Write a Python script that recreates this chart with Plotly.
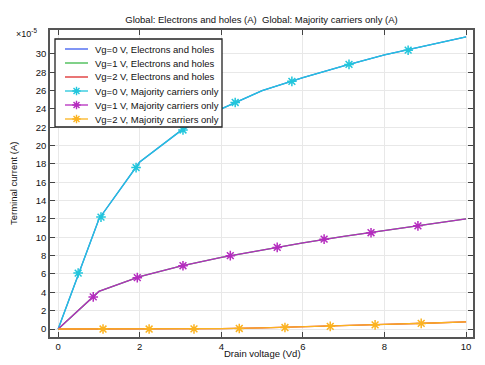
import plotly.graph_objects as go

# ---------------- data (current in units of 1e-5 A) ----------------
vd = [0, 1, 2, 3, 4, 5, 6, 7, 8, 9, 10]
i_vg0 = [0, 12.0, 18.2, 21.6, 24.0, 26.0, 27.4, 28.7, 29.9, 30.9, 31.85]
i_vg1 = [0, 4.1, 5.7, 6.85, 7.8, 8.6, 9.4, 10.1, 10.75, 11.4, 12.0]
i_vg2 = [0, 0.0, 0.0, 0.01, 0.05, 0.12, 0.22, 0.35, 0.5, 0.63, 0.78]

# marker positions (majority carriers only)
mk_x_vg0 = [0.49, 1.05, 1.91, 3.06, 4.34, 5.73, 7.13, 8.58]
mk_y_vg0 = [6.1, 12.2, 17.6, 21.7, 24.7, 27.0, 28.85, 30.4]
mk_x_vg1 = [0.86, 1.94, 3.06, 4.22, 5.37, 6.52, 7.67, 8.82]
mk_y_vg1 = [3.5, 5.6, 6.9, 8.0, 8.9, 9.8, 10.5, 11.25]
mk_x_vg2 = [1.1, 2.23, 3.33, 4.44, 5.56, 6.67, 7.77, 8.9]
mk_y_vg2 = [0.0, 0.0, 0.01, 0.06, 0.16, 0.29, 0.45, 0.61]

names = ["Vg=0 V, Electrons and holes", "Vg=1 V, Electrons and holes",
         "Vg=2 V, Electrons and holes", "Vg=0 V, Majority carriers only",
         "Vg=1 V, Majority carriers only", "Vg=2 V, Majority carriers only"]
colors = ["#3b5bf0", "#3cb84a", "#dd2a2a", "#22c6dc", "#b52cbf", "#fbb320"]

x_ticks = [0, 2, 4, 6, 8, 10]
y_ticks = list(range(0, 32, 2))

title_text = "Global: Electrons and holes (A)  Global: Majority carriers only (A)"
x_title = "Drain voltage (Vd)"
y_title = "Terminal current (A)"

FONT = "Liberation Sans, Arial, sans-serif"
FS = 9.5

# plot-area geometry (pixels)
L, R, T, B = 50, 473, 30, 337
W, H = 485, 365
PW, PH = R - L, B - T


def fx(px):
    return (px - L) / PW


def fy(py):
    return (B - py) / PH


fig = go.Figure()

# electrons and holes (underneath)
for ys, c in zip([i_vg0, i_vg1, i_vg2], colors[:3]):
    fig.add_trace(go.Scatter(x=vd, y=ys, mode="lines", line=dict(color=c, width=1.3),
                             showlegend=False, hoverinfo="skip"))
# majority carriers only
for ys, mx, my, c in zip([i_vg0, i_vg1, i_vg2], [mk_x_vg0, mk_x_vg1, mk_x_vg2],
                         [mk_y_vg0, mk_y_vg1, mk_y_vg2], colors[3:]):
    fig.add_trace(go.Scatter(x=vd, y=ys, mode="lines", line=dict(color=c, width=1.3),
                             showlegend=False))
    fig.add_trace(go.Scatter(x=mx, y=my, mode="markers",
                             marker=dict(symbol="asterisk-open", size=8, color=c,
                                         line=dict(color=c, width=1.5)),
                             showlegend=False))

# ---------------- custom legend (overlay axes in plot-area fractions) ----------------
LX0, LX1, LY0, LY1 = fx(55), fx(222), fy(127), fy(39)
fig.add_trace(go.Scatter(x=[LX0, LX1, LX1, LX0, LX0], y=[LY0, LY0, LY1, LY1, LY0],
                         mode="lines", fill="toself", fillcolor="white",
                         line=dict(color="#222", width=1.3),
                         xaxis="x2", yaxis="y2", showlegend=False, hoverinfo="skip"))
entry_py = [49, 63, 77, 91, 105, 119]
for k, (nm, c) in enumerate(zip(names, colors)):
    ey = fy(entry_py[k])
    fig.add_trace(go.Scatter(x=[fx(65), fx(88)], y=[ey, ey], mode="lines",
                             line=dict(color=c, width=1.3), xaxis="x2", yaxis="y2",
                             showlegend=False, hoverinfo="skip"))
    if k >= 3:
        fig.add_trace(go.Scatter(x=[fx(76.5)], y=[ey], mode="markers",
                                 marker=dict(symbol="asterisk-open", size=7, color=c,
                                             line=dict(color=c, width=1.4)),
                                 xaxis="x2", yaxis="y2", showlegend=False, hoverinfo="skip"))
    fig.add_annotation(x=fx(93), y=ey, xref="paper", yref="paper", text=nm,
                       showarrow=False, xanchor="left", yanchor="middle",
                       font=dict(family=FONT, size=FS, color="#111"))

axis_common = dict(showline=True, linecolor="#555", linewidth=1.5, mirror="ticks",
                   ticks="inside", ticklen=5, tickcolor="#444", showgrid=True,
                   gridcolor="#e8e8e8", gridwidth=1, zeroline=False, automargin=False,
                   tickfont=dict(family=FONT, size=FS, color="#111"))

fig.update_layout(
    width=W, height=H,
    margin=dict(l=L, r=W - R, t=T, b=H - B),
    paper_bgcolor="white", plot_bgcolor="white",
    showlegend=False,
    title=dict(text=title_text, x=0.5, xref="paper", y=1 - 20 / H, yref="container",
               xanchor="center", yanchor="middle",
               font=dict(family=FONT, size=FS, color="#111")),
    xaxis=dict(range=[-0.2, 10.17], tickvals=x_ticks, **axis_common),
    yaxis=dict(range=[-0.87, 32.6], tickvals=y_ticks, **axis_common),
    xaxis2=dict(overlaying="x", range=[0, 1], visible=False, fixedrange=True),
    yaxis2=dict(overlaying="y", range=[0, 1], visible=False, fixedrange=True),
)

# axis titles
fig.add_annotation(x=fx(262), y=fy(353), xref="paper", yref="paper", text=x_title,
                   showarrow=False, xanchor="center", yanchor="middle",
                   font=dict(family=FONT, size=FS, color="#111"))
fig.add_annotation(x=fx(13), y=fy(184), xref="paper", yref="paper", text=y_title,
                   showarrow=False, xanchor="center", yanchor="middle", textangle=-90,
                   font=dict(family=FONT, size=FS, color="#111"))
# exponent label
fig.add_annotation(x=fx(26), y=fy(33), xref="paper", yref="paper", text="×10<sup>-5</sup>",
                   showarrow=False, xanchor="center", yanchor="middle",
                   font=dict(family=FONT, size=FS - 0.5, color="#111"))

fig.write_html("out.html", config={"displayModeBar": False},
               post_script="document.body.style.margin='0';")
